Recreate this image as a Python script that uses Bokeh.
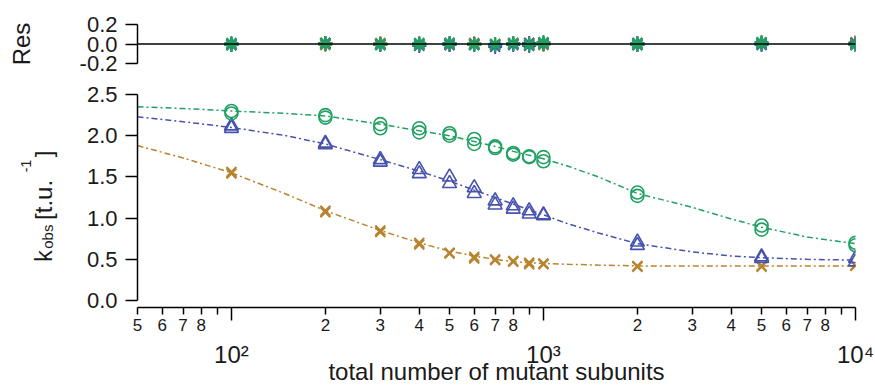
from math import pi, floor, log10

from bokeh.plotting import figure
from bokeh.layouts import column, row
from bokeh.models import Range1d, FixedTicker, PrintfTickFormatter, LogAxis, Span
from bokeh.core.properties import value
from bokeh.embed import file_html
from bokeh.resources import INLINE

# ---------------- data ----------------
n_subunits = [100, 200, 300, 400, 500, 600, 700, 800, 900, 1000, 2000, 5000, 10000]

green_a = [2.30, 2.25, 2.14, 2.09, 2.03, 1.96, 1.87, 1.79, 1.75, 1.74, 1.31, 0.91, 0.70]
green_b = [2.27, 2.22, 2.09, 2.04, 2.00, 1.90, 1.85, 1.77, 1.74, 1.69, 1.27, 0.86, 0.67]
blue_a = [2.12, 1.91, 1.71, 1.59, 1.50, 1.37, 1.21, 1.15, 1.09, 1.04, 0.71, 0.53, 0.51]
blue_b = [2.09, 1.89, 1.68, 1.54, 1.42, 1.30, 1.16, 1.11, 1.05, 1.03, 0.67, 0.51, 0.47]
brown_a = [1.56, 1.09, 0.85, 0.70, 0.58, 0.53, 0.50, 0.48, 0.46, 0.45, 0.42, 0.42, 0.43]
brown_b = [1.54, 1.07, 0.83, 0.68, 0.57, 0.51, 0.49, 0.47, 0.44, 0.44, 0.41, 0.41, 0.42]

fit_x = [50, 70, 100, 150, 200, 300, 400, 500, 600, 700, 800, 1000, 1200, 1500,
         2000, 3000, 4000, 5000, 7000, 10000]
green_fit = [2.35, 2.33, 2.30, 2.27, 2.24, 2.14, 2.06, 2.00, 1.93, 1.87, 1.81, 1.72, 1.63, 1.50,
             1.30, 1.13, 0.99, 0.89, 0.77, 0.69]
blue_fit = [2.23, 2.17, 2.10, 2.00, 1.90, 1.71, 1.57, 1.45, 1.34, 1.25, 1.17, 1.04, 0.93, 0.82,
            0.69, 0.59, 0.54, 0.52, 0.50, 0.49]
brown_fit = [1.88, 1.73, 1.55, 1.29, 1.09, 0.85, 0.70, 0.60, 0.54, 0.50, 0.47, 0.45, 0.44, 0.43,
             0.42, 0.42, 0.42, 0.42, 0.42, 0.42]

green_res_a = [0.01, 0.01, 0.00, 0.01, 0.01, 0.00, 0.00, 0.01, 0.00, 0.02, 0.01, 0.02, 0.00]
green_res_b = [-0.01, 0.00, -0.01, -0.01, 0.00, -0.01, -0.01, 0.00, -0.01, 0.00, -0.01, 0.00, -0.01]
blue_res_a = [0.00, 0.01, 0.00, 0.00, 0.01, 0.00, -0.01, 0.00, 0.01, 0.01, 0.01, 0.01, 0.01]
blue_res_b = [-0.01, 0.00, -0.01, -0.02, -0.01, -0.01, -0.03, -0.01, -0.02, 0.00, -0.01, -0.01, -0.01]
brown_res_a = [0.00, 0.01, 0.01, 0.00, 0.00, 0.01, 0.00, 0.01, 0.01, 0.00, 0.00, 0.01, 0.02]
brown_res_b = [-0.01, -0.01, 0.00, -0.01, -0.01, 0.00, -0.01, 0.00, -0.01, -0.01, -0.01, 0.00, 0.00]

res_ticks = [-0.2, 0.0, 0.2]
kobs_ticks = [0.0, 0.5, 1.0, 1.5, 2.0, 2.5]
decades = [100, 1000, 10000]
decade_labels = ["10\u00b2", "10\u00b3", "10\u2074"]
labeled_minor = [50, 60, 70, 80, 200, 300, 400, 500, 600, 700, 800,
                 2000, 3000, 4000, 5000, 6000, 7000, 8000]
unlabeled_minor = [90, 900, 9000]

# y title pieces: k_obs [t.u.^-1]
ytitle_parts = ["k", "obs", "[t.u.", "-1", "]"]

# ---------------- style ----------------
FONT = "Liberation Sans"
TXT = "#1a1a1a"
GREEN, BLUE, BROWN = "#22a064", "#4753ad", "#b8842f"
DASH = "6 3 2 3"

xr = Range1d(fit_x[0], fit_x[-1])


def style_yaxis(ax, ticks):
    ax.ticker = FixedTicker(ticks=ticks, minor_ticks=[])
    ax.formatter = PrintfTickFormatter(format="%.1f")
    ax.bounds = (ticks[0], ticks[-1])
    ax.axis_line_color = "black"
    ax.axis_line_width = 1.5
    ax.major_tick_line_color = "black"
    ax.major_tick_line_width = 1.5
    ax.major_tick_out = 12
    ax.major_tick_in = 0
    ax.minor_tick_line_color = None
    ax.major_label_standoff = 8
    ax.major_label_text_font = FONT
    ax.major_label_text_font_size = "22px"
    ax.major_label_text_color = TXT


def bare_axis(ticks):
    ax = LogAxis(ticker=FixedTicker(ticks=ticks, minor_ticks=[]))
    ax.axis_line_color = None
    ax.major_tick_line_color = None
    ax.minor_tick_line_color = None
    ax.major_tick_out = 0
    ax.major_tick_in = 0
    ax.minor_tick_out = 0
    ax.minor_tick_in = 0
    ax.major_label_text_font = FONT
    ax.major_label_text_color = TXT
    return ax


# ---------------- residual panel ----------------
top = figure(width=875, height=77, x_axis_type="log", x_range=xr,
             y_range=Range1d(res_ticks[0], res_ticks[-1]), x_axis_location=None,
             output_backend="svg", toolbar_location=None,
             min_border_left=137, min_border_right=20, min_border_top=24, min_border_bottom=14)
top.xgrid.visible = False
top.ygrid.visible = False
top.outline_line_color = None
style_yaxis(top.yaxis[0], res_ticks)
top.yaxis[0].axis_label = "Res"
top.yaxis[0].axis_label_text_font = FONT
top.yaxis[0].axis_label_text_font_size = "24px"
top.yaxis[0].axis_label_text_font_style = "normal"
top.yaxis[0].axis_label_text_color = TXT
top.yaxis[0].axis_label_standoff = 42
top.add_layout(Span(location=0, dimension="width", line_color="black", line_width=1.5))

for res, col in [(brown_res_a, BROWN), (brown_res_b, BROWN), (blue_res_a, BLUE),
                 (blue_res_b, BLUE), (green_res_a, GREEN), (green_res_b, GREEN)]:
    top.scatter(n_subunits, res, marker="asterisk", size=14, line_color=col, line_width=2)

# ---------------- y-title strip (page-pixel coordinates, frame aligned with main plot) ----------------
LW, BH = 60, 310
ttl = figure(width=LW, height=BH, x_range=Range1d(0, LW), y_range=Range1d(308, 94),
             x_axis_location=None, y_axis_location=None, output_backend="svg",
             toolbar_location=None, min_border_left=0, min_border_right=0,
             min_border_top=17, min_border_bottom=79)
ttl.xgrid.visible = False
ttl.ygrid.visible = False
ttl.outline_line_color = None
for txt, x, y, size in zip(ytitle_parts, [43, 47, 43, 25, 43], [262, 249, 220, 172, 157],
                           ["23px", "15px", "24px", "14px", "24px"]):
    ttl.text(x=[x], y=[y], text=[txt], angle=pi / 2, text_font=value(FONT),
             text_font_size=size, text_color=TXT, text_baseline="alphabetic",
             text_align="left")

# ---------------- main panel ----------------
y_start = -kobs_ticks[-1] * 7 / 207
bot = figure(width=875 - LW, height=BH, x_axis_type="log", x_range=xr,
             y_range=Range1d(y_start, kobs_ticks[-1]), x_axis_location=None,
             output_backend="svg", toolbar_location=None,
             min_border_left=137 - LW, min_border_right=20, min_border_top=17, min_border_bottom=79)
bot.xgrid.visible = False
bot.ygrid.visible = False
bot.outline_line_color = None
style_yaxis(bot.yaxis[0], kobs_ticks)

# fitted curves
bot.line(fit_x, green_fit, line_color=GREEN, line_width=1.5, line_dash=DASH)
bot.line(fit_x, blue_fit, line_color=BLUE, line_width=1.5, line_dash=DASH)
bot.line(fit_x, brown_fit, line_color=BROWN, line_width=1.5, line_dash=DASH)

# data points
for ys in (brown_a, brown_b):
    bot.scatter(n_subunits, ys, marker="x", size=14, line_color=BROWN, line_width=2)
for ys in (blue_a, blue_b):
    bot.scatter(n_subunits, ys, marker="triangle", size=14, line_color=BLUE,
                fill_color=None, line_width=1.6)
for ys in (green_a, green_b):
    bot.scatter(n_subunits, ys, marker="circle", size=13, line_color=GREEN,
                fill_color=None, line_width=1.6)

# x axis line: long decade ticks (major) and short ticks elsewhere (minor)
ax_line = LogAxis(ticker=FixedTicker(ticks=decades, minor_ticks=labeled_minor + unlabeled_minor))
ax_line.major_label_overrides = {d: "" for d in decades}
ax_line.major_label_text_font_size = "1px"
ax_line.major_label_standoff = 0
ax_line.axis_line_color = "black"
ax_line.axis_line_width = 1.5
ax_line.major_tick_line_color = "black"
ax_line.major_tick_line_width = 1.5
ax_line.minor_tick_line_color = "black"
ax_line.minor_tick_line_width = 1.5
ax_line.major_tick_out = 13
ax_line.major_tick_in = 0
ax_line.minor_tick_out = 7
ax_line.minor_tick_in = 0
bot.add_layout(ax_line, "below")

# labels of the intermediate ticks (5 6 7 8, 2 3 4 ...)
ax_minor = bare_axis(labeled_minor)
ax_minor.major_label_overrides = {t: str(int(round(t / 10 ** floor(log10(t))))) for t in labeled_minor}
ax_minor.major_label_standoff = -2
ax_minor.major_label_text_font_size = "17px"
bot.add_layout(ax_minor, "below")

# decade labels + axis title
ax_dec = bare_axis(decades)
ax_dec.major_label_overrides = dict(zip(decades, decade_labels))
ax_dec.major_label_standoff = 7
ax_dec.major_label_text_font_size = "24px"
ax_dec.axis_label = "total number of mutant subunits"
ax_dec.axis_label_text_font = FONT
ax_dec.axis_label_text_font_size = "24px"
ax_dec.axis_label_text_font_style = "normal"
ax_dec.axis_label_text_color = TXT
ax_dec.axis_label_standoff = -13
bot.add_layout(ax_dec, "below")

layout = column(top, row(ttl, bot, spacing=0), spacing=0)
open("out.html", "w").write(file_html(layout, INLINE))
